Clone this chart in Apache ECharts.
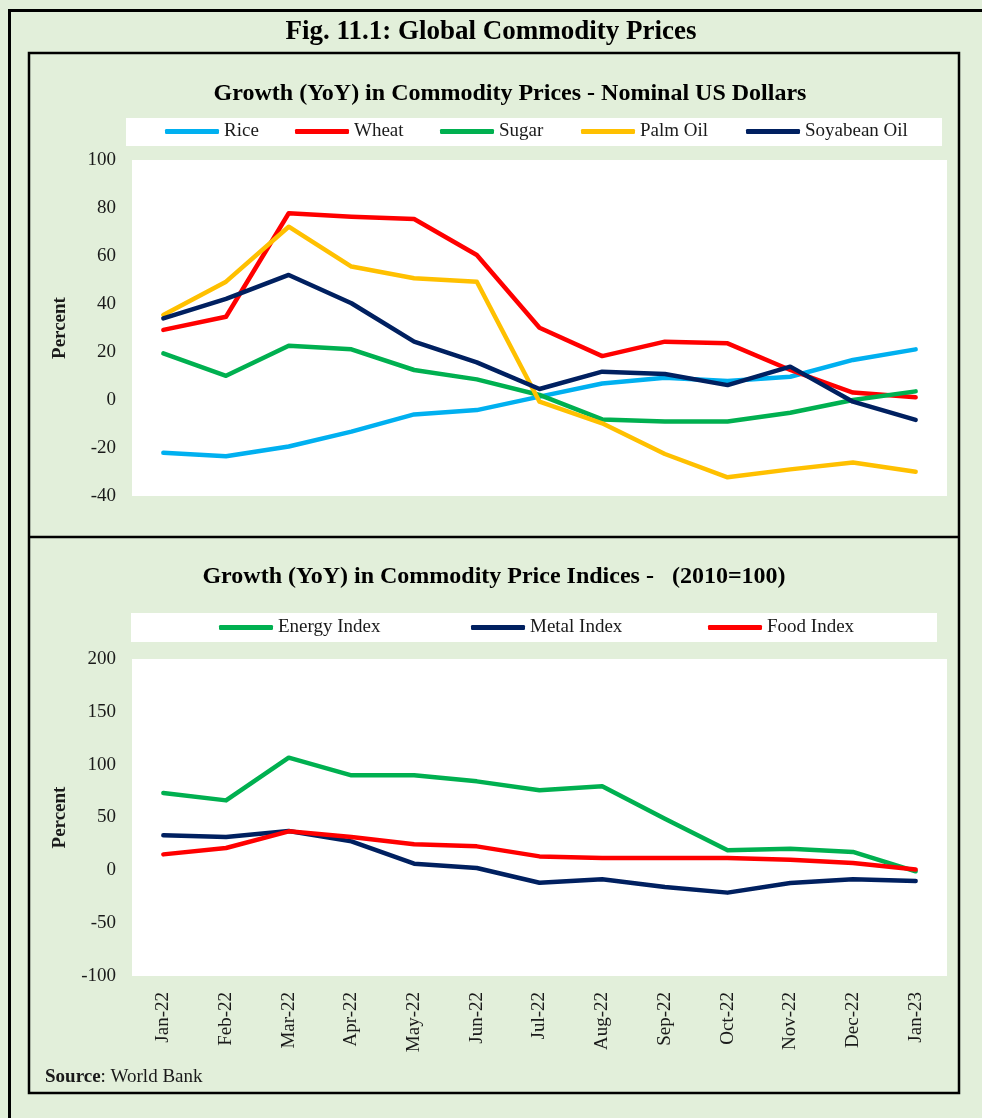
<!DOCTYPE html>
<html>
<head>
<meta charset="utf-8">
<title>Global Commodity Prices</title>
<script src="https://cdn.jsdelivr.net/npm/echarts@6/dist/echarts.min.js"></script>
<style>
  html, body { margin: 0; padding: 0; background: #e2efda; }
  #chart { width: 982px; height: 1118px; }
</style>
</head>
<body>
<div id="chart"></div>
<script>
// months on the x axis (shared by both panels)
const months = ["Jan-22", "Feb-22", "Mar-22", "Apr-22", "May-22", "Jun-22", "Jul-22",
  "Aug-22", "Sep-22", "Oct-22", "Nov-22", "Dec-22", "Jan-23"];

// top panel: YoY growth, nominal US dollars (%)
const rice = [-22, -23.4, -19.4, -13.2, -6, -4.2, 1.4, 6.9, 9.3, 7.9, 9.7, 16.7, 21.1];
const wheat = [29.2, 34.7, 77.8, 76.4, 75.4, 60.4, 30.1, 18.3, 24.3, 23.6, 12.5, 3.1, 1.1];
const sugar = [19.4, 10.1, 22.6, 21.1, 12.5, 8.6, 2.1, -8.1, -9, -9, -5.3, 0, 3.6];
const palmOil = [35.4, 49.3, 72.2, 55.6, 50.7, 49.3, -0.7, -9.7, -22.5, -32.2, -28.9, -26, -29.9];
const soyabeanOil = [34, 42.1, 52.1, 40.3, 24.3, 15.7, 4.6, 11.8, 10.8, 6.2, 13.9, -0.7, -8.3];

// bottom panel: YoY growth in price indices, 2010=100 (%)
const energyIndex = [73.2, 66.2, 106.6, 89.9, 89.9, 84.2, 75.7, 79.5, 48.9, 18.9, 20.5, 17.4, -0.9];
const metalIndex = [33.1, 31.5, 37.2, 27.4, 6.3, 2.2, -11.7, -8.5, -15.8, -21.1, -12, -8.5, -10.1];
const foodIndex = [15.1, 21.1, 36.9, 31.5, 24.6, 22.7, 13.2, 11.6, 11.6, 11.6, 10.1, 6.9, 0.7];

// y axis ticks
const topTicks = { min: -40, max: 100, interval: 20 };
const bottomTicks = { min: -100, max: 200, interval: 50 };

const FONT = '"Liberation Serif", "Times New Roman", serif';
const TXT = "#1a1a1a";

const topSeries = [
  { name: "Rice", data: rice, color: "#00b0f0", legendX: 165 },
  { name: "Wheat", data: wheat, color: "#ff0000", legendX: 295 },
  { name: "Sugar", data: sugar, color: "#00b050", legendX: 440 },
  { name: "Palm Oil", data: palmOil, color: "#ffc000", legendX: 581 },
  { name: "Soyabean Oil", data: soyabeanOil, color: "#002060", legendX: 746 }
];
const bottomSeries = [
  { name: "Energy Index", data: energyIndex, color: "#00b050", legendX: 219 },
  { name: "Metal Index", data: metalIndex, color: "#002060", legendX: 471 },
  { name: "Food Index", data: foodIndex, color: "#ff0000", legendX: 708 }
];

function makeSeries(s, idx) {
  return {
    name: s.name,
    type: "line",
    xAxisIndex: idx,
    yAxisIndex: idx,
    data: s.data,
    symbol: "none",
    color: s.color,
    lineStyle: { width: 4.5, cap: "round", join: "round" },
    emphasis: { disabled: true }
  };
}

function makeLegend(s, top) {
  return {
    data: [s.name],
    left: s.legendX,
    top: top,
    padding: 0,
    icon: "roundRect",
    itemWidth: 54,
    itemHeight: 5,
    selectedMode: false,
    textStyle: { fontFamily: FONT, fontSize: 19, color: TXT }
  };
}

function yAxisFor(ticks, gridIndex) {
  return {
    type: "value",
    gridIndex: gridIndex,
    min: ticks.min,
    max: ticks.max,
    interval: ticks.interval,
    name: "Percent",
    nameLocation: "middle",
    nameGap: 62,
    nameTextStyle: { fontFamily: FONT, fontSize: 19, fontWeight: "bold", color: TXT },
    axisLine: { show: false },
    axisTick: { show: false },
    splitLine: { show: false },
    axisLabel: { fontFamily: FONT, fontSize: 19, color: TXT, margin: 16 }
  };
}

const chart = echarts.init(document.getElementById("chart"), null, { renderer: "canvas" });

chart.setOption({
  backgroundColor: "#e2efda",
  animation: false,
  grid: [
    { left: 132, top: 160, width: 815, height: 336, show: true, backgroundColor: "#fff", borderWidth: 0 },
    { left: 132, top: 659, width: 815, height: 317, show: true, backgroundColor: "#fff", borderWidth: 0 }
  ],
  xAxis: [
    {
      type: "category", gridIndex: 0, data: months, boundaryGap: true,
      axisLine: { show: false }, axisTick: { show: false }, axisLabel: { show: false }
    },
    {
      type: "category", gridIndex: 1, data: months, boundaryGap: true,
      axisLine: { show: false }, axisTick: { show: false },
      axisLabel: { rotate: 90, interval: 0, margin: 16, fontFamily: FONT, fontSize: 19, color: TXT }
    }
  ],
  yAxis: [yAxisFor(topTicks, 0), yAxisFor(bottomTicks, 1)],
  legend: topSeries.map(s => makeLegend(s, 122)).concat(bottomSeries.map(s => makeLegend(s, 618))),
  series: topSeries.map(s => makeSeries(s, 0)).concat(bottomSeries.map(s => makeSeries(s, 1))),
  graphic: [
    // frames
    { type: "rect", shape: { x: 9.5, y: 10.5, width: 990, height: 1130 },
      style: { fill: "none", stroke: "#000", lineWidth: 3 }, silent: true },
    { type: "rect", shape: { x: 29, y: 53, width: 930, height: 1040 },
      style: { fill: "none", stroke: "#000", lineWidth: 2.5 }, silent: true },
    { type: "line", shape: { x1: 29, y1: 537, x2: 959, y2: 537 },
      style: { stroke: "#000", lineWidth: 2.5 }, silent: true },
    // legend backgrounds
    { type: "rect", z: -1, shape: { x: 126, y: 118, width: 816, height: 28 },
      style: { fill: "#fff" }, silent: true },
    { type: "rect", z: -1, shape: { x: 131, y: 613, width: 806, height: 29 },
      style: { fill: "#fff" }, silent: true },
    // titles
    { type: "text", x: 491, y: 32, silent: true,
      style: { text: "Fig. 11.1: Global Commodity Prices", fontFamily: FONT, fontSize: 27,
        fontWeight: "bold", fill: "#000", align: "center", verticalAlign: "middle" } },
    { type: "text", x: 510, y: 94, silent: true,
      style: { text: "Growth (YoY) in Commodity Prices - Nominal US Dollars", fontFamily: FONT, fontSize: 24,
        fontWeight: "bold", fill: "#000", align: "center", verticalAlign: "middle" } },
    { type: "text", x: 494, y: 577, silent: true,
      style: { text: "Growth (YoY) in Commodity Price Indices -   (2010=100)", fontFamily: FONT, fontSize: 24,
        fontWeight: "bold", fill: "#000", align: "center", verticalAlign: "middle" } },
    { type: "text", x: 45, y: 1077, silent: true,
      style: {
        text: "{b|Source}: World Bank",
        rich: { b: { fontWeight: "bold", fontFamily: FONT, fontSize: 19, fill: TXT } },
        fontFamily: FONT, fontSize: 19, fill: TXT, align: "left", verticalAlign: "middle"
      } }
  ]
});

window.addEventListener("resize", () => {
  chart.resize();
});
</script>
</body>
</html>
